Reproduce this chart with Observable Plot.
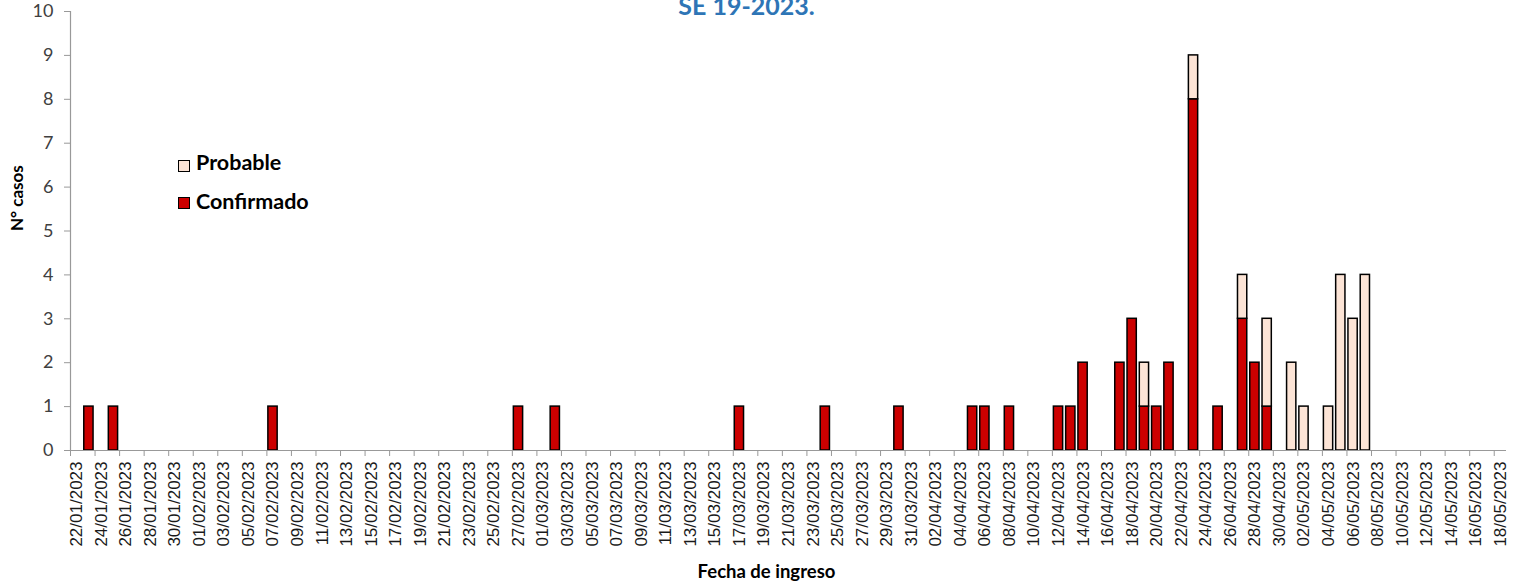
<!DOCTYPE html>
<html>
<head>
<meta charset="utf-8">
<script src="https://cdn.jsdelivr.net/npm/d3@7"></script>
<script src="https://cdn.jsdelivr.net/npm/@observablehq/plot@0.6"></script>
<style>
  body { margin: 0; background: #fff; }
  #wrap { position: relative; width: 1518px; height: 585px; overflow: hidden; }
  #wrap svg { overflow: visible; }
  #wrap svg g[aria-label="x-axis tick label"] text { font-family: "Liberation Sans", Arial, sans-serif !important; }
  .sw { position: absolute; width: 10px; height: 10px; border: 1px solid #000; }
  .lt { position: absolute; font-family: Lato, sans-serif; font-weight: bold; font-size: 21.5px; line-height: 24px; color: #000; white-space: nowrap; }
</style>
</head>
<body>
<div id="wrap"></div>
<script>
// ---- data ----
const fechas = ["2023-01-23","2023-01-25","2023-02-07","2023-02-27","2023-03-02","2023-03-17","2023-03-24","2023-03-30",
  "2023-04-05","2023-04-06","2023-04-08","2023-04-12","2023-04-13","2023-04-14","2023-04-17","2023-04-18","2023-04-19",
  "2023-04-20","2023-04-21","2023-04-23","2023-04-25","2023-04-27","2023-04-28","2023-04-29","2023-05-01","2023-05-02",
  "2023-05-04","2023-05-05","2023-05-06","2023-05-07"];
const confirmado = [1,1,1,1,1,1,1,1,1,1,1,1,1,2,2,3,1,1,2,8,1,3,2,1,0,0,0,0,0,0];
const probable   = [0,0,0,0,0,0,0,0,0,0,0,0,0,0,0,0,1,0,0,1,0,1,0,2,2,1,1,4,3,4];
const series = ["Confirmado", "Probable"];
const colores = ["#CC0000", "#FCE4D6"];
const yTicks = [0,1,2,3,4,5,6,7,8,9,10];
const inicio = "2023-01-22";
const fin = "2023-05-19";
const titulo = "SE 19-2023.";
const tituloY = "N° casos";
const tituloX = "Fecha de ingreso";

// ---- build ----
const valores = {Confirmado: confirmado, Probable: probable};
const rows = [];
for (const s of series) {
  fechas.forEach((f, i) => {
    if (valores[s][i] > 0) rows.push({fecha: new Date(f), tipo: s, n: valores[s][i]});
  });
}
const etiquetas = d3.utcDay.range(new Date(inicio), new Date(fin), 2);
const etiquetasCentro = etiquetas.map(d => d3.utcHour.offset(d, 12));

const chart = Plot.plot({
  width: 1518,
  height: 585,
  marginLeft: 70,
  marginRight: 12,
  marginTop: 11,
  marginBottom: 135,
  style: {background: "#fff"},
  x: {type: "utc", domain: [new Date(inicio), new Date(fin)]},
  y: {domain: [0, 10]},
  color: {domain: series, range: colores},
  marks: [
    Plot.rectY(rows, {x: "fecha", interval: "day", y: "n", fill: "tipo", stroke: "#000", strokeWidth: 1.5, insetLeft: 1.5, insetRight: 1.5}),
    Plot.ruleY([0], {stroke: "#999", strokeWidth: 1.2}),
    Plot.frame({anchor: "left", stroke: "#999", strokeWidth: 1.2}),
    Plot.axisY(yTicks, {tickSize: 6, tickPadding: 11, fontSize: 18, fontFamily: "Lato", fill: "#404040", stroke: "#999", label: null}),
    Plot.axisX(etiquetas, {tickSize: 6, tickFormat: () => "", stroke: "#999", label: null}),
    Plot.axisX(etiquetasCentro, {tickSize: 0, tickPadding: 11, tickRotate: -90, tickFormat: d3.utcFormat("%d/%m/%Y"),
      fontSize: 17, fontFamily: "Liberation Sans", fill: "#1a1a1a", label: null}),
    Plot.text([tituloY], {frameAnchor: "left", rotate: -90, dx: -47.5, lineAnchor: "bottom", fontSize: 17, fontWeight: "bold", fontFamily: "Lato", fill: "#000"}),
    Plot.text([tituloX], {frameAnchor: "bottom", dx: -22, dy: 127, lineAnchor: "bottom", fontSize: 18.5, fontWeight: "bold", fontFamily: "Lato", fill: "#000"}),
    Plot.text([titulo], {frameAnchor: "top", dx: -42, dy: 3, lineAnchor: "bottom", fontSize: 25, fontWeight: "bold", fontFamily: "Lato", fill: "#2E75B6"})
  ]
});

const wrap = document.getElementById("wrap");
wrap.appendChild(chart);

// legend (inside the plot area)
const leg = [
  {name: "Probable", color: colores[1], swTop: 160, txtTop: 150.4},
  {name: "Confirmado", color: colores[0], swTop: 197, txtTop: 188.7}
];
for (const l of leg) {
  const sw = document.createElement("div");
  sw.className = "sw";
  sw.style.left = "178px";
  sw.style.top = l.swTop + "px";
  sw.style.background = l.color;
  wrap.appendChild(sw);
  const t = document.createElement("div");
  t.className = "lt";
  t.style.left = "196px";
  t.style.top = l.txtTop + "px";
  t.textContent = l.name;
  wrap.appendChild(t);
}
</script>
</body>
</html>
